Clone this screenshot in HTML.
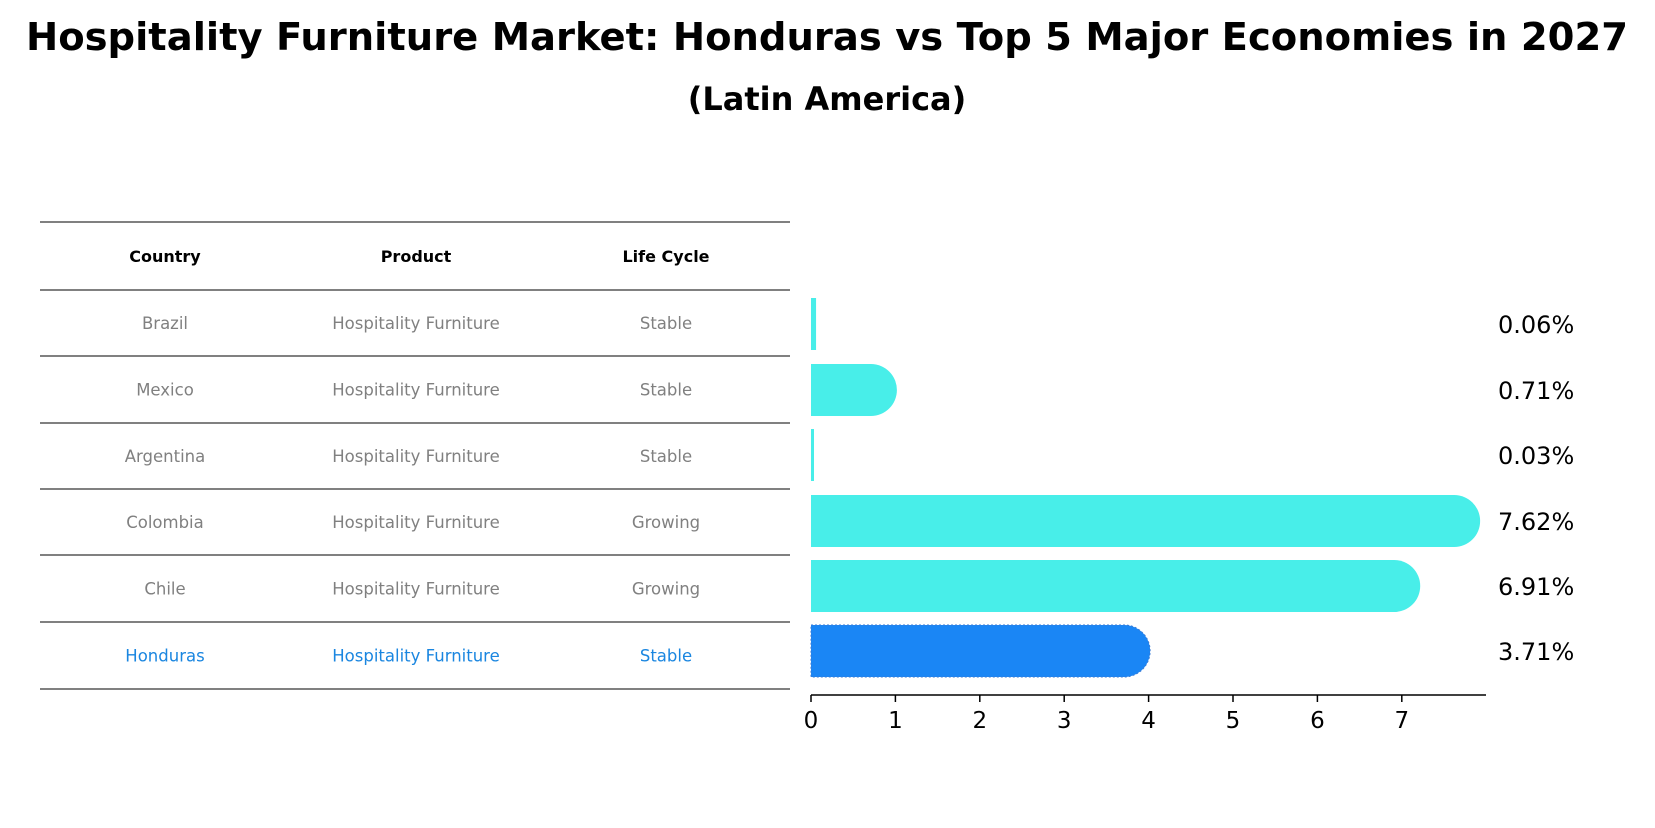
<!DOCTYPE html>
<html><head><meta charset="utf-8"><style>
body{margin:0;width:1655px;height:823px;background:#fff;font-family:"Liberation Sans","DejaVu Sans",sans-serif;overflow:hidden}
</style></head><body>
<svg width="1655" height="823" font-family="'DejaVu Sans','Liberation Sans',sans-serif">
<text x="827" y="50" text-anchor="middle" font-size="38.5" font-weight="bold">Hospitality Furniture Market: Honduras vs Top 5 Major Economies in 2027</text>
<text x="827" y="110" text-anchor="middle" font-size="32" font-weight="bold">(Latin America)</text>
<g id="table"></g>
<g id="bars"></g>
</svg>
<script>
const countries=["Brazil","Mexico","Argentina","Colombia","Chile","Honduras"];
const products=["Hospitality Furniture","Hospitality Furniture","Hospitality Furniture","Hospitality Furniture","Hospitality Furniture","Hospitality Furniture"];
const lifecycles=["Stable","Stable","Stable","Growing","Growing","Stable"];
const values=[0.06,0.71,0.03,7.62,6.91,3.71];
const ticks=[0,1,2,3,4,5,6,7];
const NS="http://www.w3.org/2000/svg";
function mk(t,a,p){const e=document.createElementNS(NS,t);for(const k in a)e.setAttribute(k,a[k]);p.appendChild(e);return e;}
const tb=document.getElementById('table'),bg=document.getElementById('bars');
const lines=[222,290,356,423,489,555,622,689];
const cx=[165,416,666];
function rowY(i){return (lines[i+1]+lines[i+2])/2;}
lines.forEach(y=>{const l=mk('line',{x1:40,x2:790,y1:y,y2:y,stroke:'#000','stroke-width':1},tb);

});
["Country","Product","Life Cycle"].forEach((h,j)=>{const t=mk('text',{x:cx[j],y:(lines[0]+lines[1])/2+6,'text-anchor':'middle','font-size':16,'font-weight':'bold'},tb);t.textContent=h;

});
countries.forEach((c,i)=>{const col=c==="Honduras"?'#1a86e0':'#808080';
[c,products[i],lifecycles[i]].forEach((v,j)=>{const t=mk('text',{x:cx[j],y:rowY(i)+6,'text-anchor':'middle','font-size':16.5,fill:col},tb);t.textContent=v;

});});
const x0=811,ppu=84.4,axY=695;
const xs=v=>x0+v*ppu;
const barY=[324,390,455,521,586,651],bh=52;
values.forEach((v,i)=>{const hon=countries[i]==="Honduras";const col=hon?'#1a86f5':'#48eee9';
const y=barY[i]-bh/2,w=xs(v)-x0;const r=bh/2;
let d;
if(w>r){d=`M${x0},${y}H${xs(v)}A${r},${r} 0 0 1 ${xs(v)},${y+bh}H${x0}Z`;}
else{d=`M${x0},${y}h${Math.max(w,3)}v${bh}h${-Math.max(w,3)}Z`;}
const p=mk('path',{d:d,fill:col},bg);
if(hon){p.setAttribute('stroke','#3a7bd5');p.setAttribute('stroke-dasharray','2,2');p.setAttribute('stroke-width','1');}


const t=mk('text',{x:1498,y:barY[i]+9,'font-size':24},bg);t.textContent=v.toFixed(2)+'%';

});
const ax=mk('line',{x1:x0,x2:1486,y1:axY,y2:axY,stroke:'#000','stroke-width':1.5},bg);


ticks.forEach(t=>{const l=mk('line',{x1:xs(t),x2:xs(t),y1:axY,y2:axY+7,stroke:'#000','stroke-width':1.5},bg);


const tx=mk('text',{x:xs(t),y:axY+33,'text-anchor':'middle','font-size':23},bg);tx.textContent=t;

});
</script>
</body></html>
